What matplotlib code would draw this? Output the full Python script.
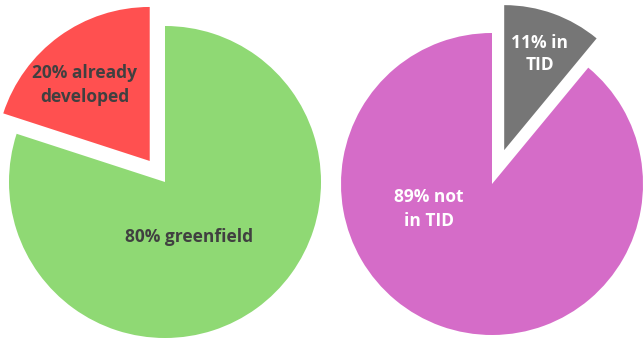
import matplotlib.pyplot as plt

# land share of the development sites
land_labels = ["greenfield", "already\ndeveloped"]
land_pct = [80, 20]
land_colors = ["#8fd974", "#ff5050"]

# share of sites inside a TID
tid_labels = ["not\nin TID", "in\nTID"]
tid_pct = [89, 11]
tid_colors = ["#d56cc8", "#767676"]

W, H = 644, 339

fig = plt.figure(figsize=(W / 100, H / 100), dpi=100)
ax = fig.add_axes([0, 0, 1, 1])

font = dict(family=["Open Sans", "DejaVu Sans"], fontweight="bold", fontsize=12.5)

# left pie: greenfield vs already developed, small slice pulled out
# (explode is in data units here, i.e. pixels)
w1, _ = ax.pie(land_pct, colors=land_colors, startangle=90, counterclock=False,
               center=(165, H - 182), radius=156, explode=[0, 26],
               frame=True, wedgeprops=dict(linewidth=0))
w1[1].set_radius(154)
ax.text(189, H - 237, f"{land_pct[0]}% {land_labels[0]}", color="#404040",
        ha="center", va="center", **font)
ax.text(85, H - 85, f"{land_pct[1]}% {land_labels[1]}", color="#404040",
        ha="center", va="center", linespacing=1.5, **font)

# right pie: in TID vs not in TID
w2, _ = ax.pie(tid_pct, colors=tid_colors, startangle=90, counterclock=True,
               center=(492, H - 184), radius=151, explode=[0, 36],
               frame=True, wedgeprops=dict(linewidth=0))
w2[1].set_radius(145)
ax.text(429, H - 209, f"{tid_pct[0]}% {tid_labels[0]}", color="white",
        ha="center", va="center", linespacing=1.45, **font)
ax.text(540, H - 54, f"{tid_pct[1]}% {tid_labels[1]}", color="white",
        ha="center", va="center", linespacing=1.33, **font)

ax.set_xlim(0, W)
ax.set_ylim(0, H)
ax.set_aspect("auto")
ax.axis("off")

fig.savefig("out.png", dpi=100)
